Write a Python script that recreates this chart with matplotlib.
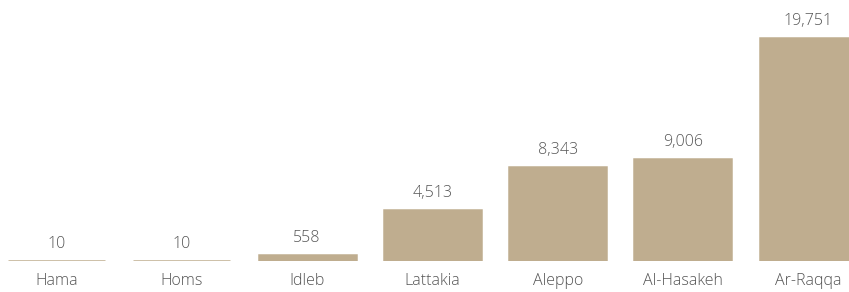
import matplotlib.pyplot as plt

regions = ["Hama", "Homs", "Idleb", "Lattakia", "Aleppo", "Al-Hasakeh", "Ar-Raqqa"]
counts = [10, 10, 558, 4513, 8343, 9006, 19751]
labels = ["10", "10", "558", "4,513", "8,343", "9,006", "19,751"]

bar_color = "#BFAD8F"
text_color = "#555555"

plt.rcParams['font.family'] = ['Open Sans', 'DejaVu Sans']
plt.rcParams['font.weight'] = 300

fig = plt.figure(figsize=(8.49, 2.92), dpi=100)
ax = fig.add_axes([0, 31 / 292, 1, 261 / 292])

x = range(len(regions))
bars = ax.bar(x, counts, width=0.774, color=bar_color, edgecolor=bar_color, linewidth=1.8)

for b, lab in zip(bars, labels):
    ax.annotate(lab, (b.get_x() + b.get_width() / 2, b.get_height()),
                xytext=(0, 6.5), textcoords="offset points",
                ha="center", va="bottom", fontsize=11.5, color=text_color,
                fontweight=300)

ax.set_xlim(-0.451, 6.325)
ax.set_ylim(0, 261 * 19751 / 223)
ax.set_xticks(list(x))
ax.set_xticklabels(regions, fontsize=11.5, color=text_color, fontweight=300)
ax.tick_params(axis="x", length=0, pad=8.5)
ax.set_yticks([])
for s in ax.spines.values():
    s.set_visible(False)

fig.savefig("out.png", dpi=100)
